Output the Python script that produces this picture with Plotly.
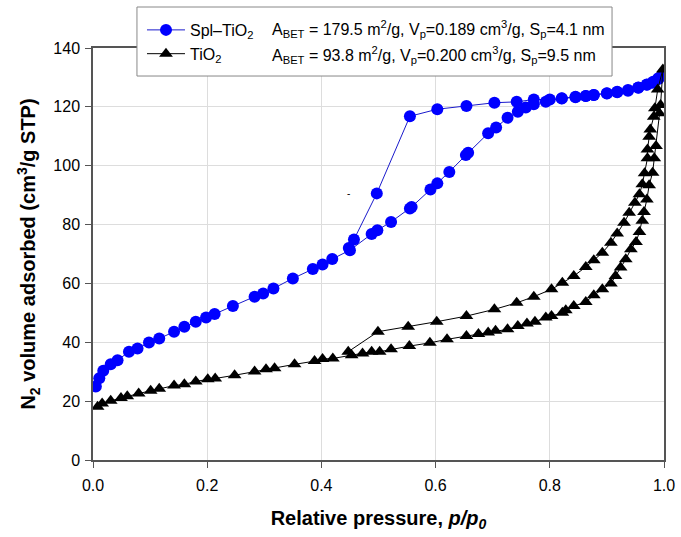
import plotly.graph_objects as go

# ---------------- data ----------------
spl_ads_x = [0.005, 0.011, 0.018, 0.031, 0.043, 0.063, 0.078, 0.098, 0.116, 0.142, 0.160, 0.180,
             0.198, 0.213, 0.245, 0.283, 0.298, 0.316, 0.350, 0.385, 0.402, 0.419, 0.450, 0.488,
             0.498, 0.522, 0.555, 0.558, 0.591, 0.603, 0.624, 0.653, 0.657, 0.692, 0.706, 0.726,
             0.744, 0.758, 0.772, 0.793, 0.821, 0.845, 0.863, 0.877, 0.900, 0.918, 0.937, 0.955,
             0.970, 0.981, 0.990, 0.998]
spl_ads_y = [25.0, 27.8, 30.3, 32.5, 33.9, 36.8, 37.9, 39.9, 41.3, 43.6, 45.3, 47.0,
             48.4, 49.6, 52.3, 55.5, 56.6, 58.3, 61.7, 64.9, 66.4, 68.3, 71.3, 76.8,
             78.1, 80.9, 85.5, 86.0, 91.9, 94.0, 97.9, 103.6, 104.4, 111.0, 113.0, 116.3,
             118.3, 119.8, 120.9, 121.7, 122.9, 123.4, 123.7, 124.0, 124.6, 125.1, 125.7, 126.6,
             127.6, 128.5, 129.7, 131.2]
spl_des_x = [0.990, 0.980, 0.970, 0.955, 0.937, 0.918, 0.900, 0.877, 0.863, 0.845, 0.821, 0.800,
             0.772, 0.742, 0.703, 0.654, 0.603, 0.555, 0.497, 0.457, 0.448]
spl_des_y = [129.5, 128.2, 127.5, 126.5, 125.5, 125.0, 124.5, 124.0, 123.7, 123.3, 122.8, 122.5,
             122.5, 121.7, 121.4, 120.3, 119.2, 116.8, 90.6, 74.9, 72.0]

tio_ads_x = [0.008, 0.016, 0.031, 0.049, 0.060, 0.080, 0.101, 0.116, 0.142, 0.160, 0.180, 0.201,
             0.214, 0.248, 0.283, 0.303, 0.318, 0.353, 0.388, 0.402, 0.420, 0.453, 0.472, 0.488,
             0.502, 0.522, 0.554, 0.590, 0.620, 0.654, 0.675, 0.692, 0.705, 0.726, 0.744, 0.760,
             0.774, 0.793, 0.803, 0.822, 0.828, 0.842, 0.863, 0.877, 0.892, 0.907, 0.915, 0.924,
             0.933, 0.942, 0.951, 0.957, 0.962, 0.965, 0.970, 0.974, 0.980, 0.983, 0.986, 0.992,
             0.994, 0.998]
tio_ads_y = [18.1, 19.2, 20.1, 21.1, 21.7, 22.6, 23.5, 24.2, 25.3, 25.7, 26.7, 27.4,
             27.7, 28.8, 30.1, 30.8, 31.2, 32.5, 33.6, 34.3, 34.5, 35.6, 36.2, 36.8,
             36.8, 37.6, 38.7, 39.8, 41.0, 42.1, 42.8, 43.3, 43.9, 44.4, 45.5, 46.4,
             47.0, 48.4, 48.9, 50.0, 50.9, 52.3, 53.7, 56.0, 58.0, 60.0, 62.5, 65.4,
             68.2, 71.6, 74.1, 77.5, 81.3, 84.3, 88.5, 93.4, 97.6, 102.5, 106.7, 117.8,
             120.6, 132.7]
tio_des_x = [0.989, 0.984, 0.982, 0.976, 0.974, 0.971, 0.971, 0.966, 0.962, 0.957, 0.949, 0.939,
             0.930, 0.918, 0.907, 0.892, 0.877, 0.863, 0.842, 0.822, 0.803, 0.772, 0.742, 0.703,
             0.654, 0.602, 0.552, 0.499, 0.447]
tio_des_y = [125.9, 119.5, 116.6, 112.3, 109.8, 105.5, 102.5, 97.4, 93.7, 90.3, 87.4, 84.0,
             80.6, 77.0, 73.8, 70.4, 67.9, 65.6, 62.5, 60.2, 58.0, 55.5, 53.4, 51.2,
             48.9, 47.0, 45.3, 43.6, 36.8]

x_ticks = [0.0, 0.2, 0.4, 0.6, 0.8, 1.0]
x_tick_labels = ["0.0", "0.2", "0.4", "0.6", "0.8", "1.0"]
y_ticks = [0, 20, 40, 60, 80, 100, 120, 140]

series_names = ["Spl–TiO<sub>2</sub>", "TiO<sub>2</sub>"]
series_stats = [
    "A<sub>BET</sub> = 179.5 m<sup>2</sup>/g, V<sub>p</sub>=0.189 cm<sup>3</sup>/g, S<sub>p</sub>=4.1 nm",
    "A<sub>BET</sub> = 93.8 m<sup>2</sup>/g, V<sub>p</sub>=0.200 cm<sup>3</sup>/g, S<sub>p</sub>=9.5 nm",
]

FONT = "Liberation Sans, Arial, sans-serif"

fig = go.Figure()
fig.add_trace(go.Scatter(
    x=spl_ads_x + spl_des_x, y=spl_ads_y + spl_des_y, mode="lines+markers",
    name=series_names[0], legendgroup="a",
    line=dict(color="#1a1acc", width=1),
    marker=dict(symbol="circle", size=12, color="#0000ff"),
))
fig.add_trace(go.Scatter(
    x=tio_ads_x + tio_des_x, y=tio_ads_y + tio_des_y, mode="lines+markers",
    name=series_names[1], legendgroup="b",
    line=dict(color="black", width=1),
    marker=dict(symbol="triangle-up", size=12, color="black"),
))

axis_common = dict(
    showline=True, linecolor="#555555", linewidth=1.5, mirror=True,
    ticks="outside", ticklen=6, tickcolor="#555555",
    showgrid=True, gridcolor="#dddddd", gridwidth=1, zeroline=False,
    tickfont=dict(family=FONT, size=16, color="black"),
)

fig.update_xaxes(
    range=[0, 1], tickvals=x_ticks, ticktext=x_tick_labels,
    title=dict(text="<b>Relative pressure, <i>p/p<sub>0</sub></i></b>",
               font=dict(family=FONT, size=20, color="black"), standoff=18),
    ticklabelstandoff=4,
    **axis_common,
)
fig.update_yaxes(
    range=[0, 140], tickvals=y_ticks,
    title=dict(text="<b>N<sub>2</sub> volume adsorbed (cm<sup>3</sup>/g STP)</b>",
               font=dict(family=FONT, size=20, color="black"), standoff=12),
    ticklabelstandoff=2,
    **axis_common,
)

# legend frame
fig.add_shape(type="rect", xref="paper", yref="paper",
              x0=0.077, x1=0.909, y0=0.932, y1=1.0995,
              line=dict(color="#888888", width=1), fillcolor="white", layer="above")

for i, txt in enumerate(series_stats):
    fig.add_annotation(xref="paper", yref="paper", x=0.31, y=[1.046, 0.984][i],
                       xanchor="left", yanchor="middle", showarrow=False, text=txt,
                       font=dict(family=FONT, size=16, color="black"))

# stray dash in the original figure
fig.add_annotation(x=0.448, y=90.4, text="-", showarrow=False,
                   font=dict(family=FONT, size=10, color="black"))

fig.update_layout(
    width=681, height=537,
    margin=dict(l=93, r=17, t=48, b=77, autoexpand=False),
    paper_bgcolor="white", plot_bgcolor="white",
    font=dict(family=FONT, size=16, color="black"),
    showlegend=True,
    legend=dict(x=0.0858, y=1.085, xanchor="left", yanchor="top",
                bgcolor="rgba(0,0,0,0)", borderwidth=0,
                font=dict(family=FONT, size=16, color="black"),
                itemwidth=38, tracegroupgap=9, traceorder="normal"),
)

fig.write_html("out.html", config={"displayModeBar": False},
               post_script="document.body.style.margin='0';document.body.style.overflow='hidden';")
